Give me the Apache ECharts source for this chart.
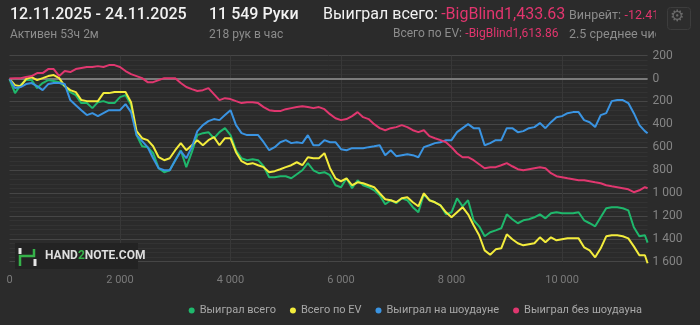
<!DOCTYPE html>
<html><head><meta charset="utf-8">
<script src="https://cdn.jsdelivr.net/npm/echarts@6/dist/echarts.min.js"></script>
<style>html,body{margin:0;padding:0;background:#2b2b2b;}#c{width:700px;height:325px;}</style>
</head><body><div id="c"></div>
<script>
const hands = [0,100,200,300,400,500,600,700,800,900,
1000,1100,1200,1300,1400,1500,1600,1700,1800,1900,
2000,2100,2200,2300,2400,2500,2600,2700,2800,2900,
3000,3100,3200,3300,3400,3500,3600,3700,3800,3900,
4000,4100,4200,4300,4400,4500,4600,4700,4800,4900,
5000,5100,5200,5300,5400,5500,5600,5700,5800,5900,
6000,6100,6200,6300,6400,6500,6600,6700,6800,6900,
7000,7100,7200,7300,7400,7500,7600,7700,7800,7900,
8000,8100,8200,8300,8400,8500,8600,8700,8800,8900,
9000,9100,9200,9300,9400,9500,9600,9700,9800,9900,
10000,10100,10200,10300,10400,10500,10600,10700,10800,10900,
11000,11100,11200,11300,11400,11500,11549];

const wonTotal = [-4,-127,-57,-13,-13,-83,-39,-13,-22,-31,
-66,-118,-144,-214,-214,-258,-206,-197,-214,-214,
-162,-144,-232,-494,-591,-599,-652,-783,-818,-801,
-713,-626,-774,-643,-494,-477,-468,-521,-468,-433,
-494,-626,-696,-713,-704,-713,-766,-862,-862,-853,
-853,-871,-836,-801,-739,-801,-827,-818,-844,-932,
-949,-871,-958,-888,-932,-949,-976,-1019,-1098,-1063,
-1089,-1046,-1063,-1124,-1168,-1011,-1063,-1081,-1107,-1186,
-1168,-1046,-1116,-1063,-1238,-1291,-1378,-1343,-1326,-1308,
-1186,-1229,-1264,-1238,-1229,-1212,-1186,-1221,-1177,-1168,
-1177,-1177,-1177,-1168,-1238,-1264,-1291,-1212,-1133,-1124,
-1124,-1133,-1151,-1299,-1378,-1369,-1434];

const evTotal = [-4,-57,-66,-4,13,-13,4,22,31,4,
-66,-101,-118,-188,-197,-197,-197,-127,-127,-118,
-118,-118,-206,-459,-521,-538,-591,-687,-713,-696,
-626,-564,-626,-582,-538,-582,-538,-512,-582,-521,
-521,-643,-722,-748,-739,-757,-774,-818,-809,-792,
-774,-757,-731,-757,-687,-696,-696,-652,-783,-871,
-897,-871,-932,-906,-914,-932,-949,-1002,-1054,-1063,
-1081,-1046,-1037,-1081,-1116,-1002,-1063,-1081,-1107,-1168,
-1212,-1168,-1124,-1186,-1282,-1369,-1501,-1540,-1492,-1483,
-1361,-1404,-1439,-1457,-1448,-1439,-1387,-1431,-1387,-1413,
-1404,-1396,-1396,-1396,-1474,-1501,-1562,-1483,-1378,-1369,
-1369,-1378,-1396,-1466,-1544,-1544,-1614];

const wonShowdown = [-4,-83,-74,-48,-39,-66,-101,-48,-39,-39,
-48,-188,-232,-276,-319,-302,-328,-302,-276,-276,
-276,-223,-293,-494,-547,-599,-696,-783,-801,-801,
-713,-634,-696,-599,-459,-407,-372,-354,-363,-319,
-276,-407,-477,-494,-494,-494,-556,-626,-599,-556,
-538,-564,-556,-564,-494,-582,-582,-538,-556,-556,
-617,-626,-608,-608,-608,-599,-591,-582,-669,-626,
-678,-669,-661,-669,-687,-599,-582,-564,-556,-538,
-538,-468,-433,-398,-433,-433,-582,-564,-538,-538,
-433,-433,-468,-459,-433,-424,-389,-433,-381,-337,
-328,-302,-293,-293,-363,-381,-424,-319,-302,-197,
-188,-188,-214,-302,-407,-459,-477];

const wonNoShowdown = [0,4,4,13,22,48,48,83,83,22,
66,57,83,92,101,101,109,101,118,118,
101,66,39,22,4,-31,-31,-13,4,4,
4,-39,-74,-92,-109,-101,-83,-136,-188,-171,
-179,-197,-214,-206,-206,-214,-249,-276,-284,-284,
-267,-258,-249,-241,-249,-258,-249,-267,-311,-346,
-363,-354,-328,-293,-337,-354,-398,-433,-451,-433,
-424,-407,-424,-451,-468,-451,-503,-521,-538,-556,
-599,-652,-687,-687,-713,-748,-783,-774,-774,-757,
-739,-766,-792,-801,-792,-783,-774,-783,-827,-853,
-862,-871,-879,-888,-888,-897,-906,-914,-932,-941,
-949,-958,-967,-993,-976,-949,-958];

const seriesNames = ['Выиграл всего','Всего по EV','Выиграл на шоудауне','Выиграл без шоудауна'];
const seriesColors = ['#1fb86c','#f3ec3c','#3a94e2','#e0376f'];
const seriesValues = [wonTotal, evTotal, wonShowdown, wonNoShowdown];

const fmt = v => String(Math.abs(v)).replace(/\B(?=(\d{3})+(?!\d))/g, ' ');
const BG = '#2b2b2b';
const FF = 'Roboto';

const chart = echarts.init(document.getElementById('c'));
const series = seriesValues.map((vals, i) => ({
  name: seriesNames[i], type: 'line', symbol: 'none', animation: false,
  color: seriesColors[i], clip: false,
  lineStyle: { width: 2, color: seriesColors[i] },
  data: hands.map((h, j) => [h, vals[j]]),
  z: 3
}));
series[0].markLine = {
  silent: true, symbol: 'none', label: { show: false }, animation: false,
  lineStyle: { color: '#7a7a7a', width: 2, type: 'solid' },
  data: [{ yAxis: 0 }], z: 1
};

chart.setOption({
  backgroundColor: BG,
  animation: false,
  textStyle: { fontFamily: FF },
  grid: { left: 9.5, right: 52.4, top: 55.7, bottom: 63.3 },
  xAxis: {
    type: 'value', min: 0, max: 11549, interval: 2000,
    axisLine: { show: false }, axisTick: { show: false },
    splitLine: { show: true, showMinLine: false, showMaxLine: false, lineStyle: { color: '#383838' } },
    axisLabel: { color: '#7a7a7a', fontSize: 11, margin: 13, showMaxLabel: false, formatter: fmt, fontFamily: FF }
  },
  yAxis: {
    type: 'value', position: 'right', min: -1600, max: 200, interval: 200,
    axisLine: { show: false }, axisTick: { show: false },
    axisLabel: { color: '#858585', fontSize: 12, margin: 5, formatter: fmt, fontFamily: FF, showMaxLabel: true, showMinLabel: true, hideOverlap: false },
    splitLine: { show: true, lineStyle: { color: '#464646' } },
    minorTick: { show: false, splitNumber: 5 },
    minorSplitLine: { show: true, lineStyle: { color: '#333333' } }
  },
  legend: {
    data: seriesNames, right: 53, top: 300, icon: 'circle', itemWidth: 6, itemHeight: 6,
    itemGap: 14, textStyle: { color: '#a8a8a8', fontSize: 11, fontFamily: FF }
  },
  series: series,
  graphic: [
    { type: 'text', left: 10, top: 7, z: 10, style: { text: '12.11.2025 - 24.11.2025', fill: '#f2f2f2', font: '500 16px Roboto' } },
    { type: 'text', left: 10, top: 29, z: 10, style: { text: 'Активен 53ч 2м', fill: '#8c8c8c', font: '12px Roboto' } },
    { type: 'text', left: 209, top: 7, z: 10, style: { text: '11 549 Руки', fill: '#f2f2f2', font: '500 16px Roboto' } },
    { type: 'text', left: 209, top: 29, z: 10, style: { text: '218 рук в час', fill: '#8c8c8c', font: '12px Roboto' } },
    { type: 'text', left: 323, top: 7, z: 10, style: {
        text: '{a|Выиграл всего:} {b|-BigBlind1,433.63}',
        rich: { a: { fill: '#f2f2f2', fontSize: 16, fontFamily: FF }, b: { fill: '#e2356e', fontSize: 16, fontFamily: FF } } } },
    { type: 'text', left: 393, top: 28, z: 10, style: {
        text: '{a|Всего по EV:} {b|-BigBlind1,613.86}',
        rich: { a: { fill: '#8c8c8c', fontSize: 12, fontFamily: FF }, b: { fill: '#e2356e', fontSize: 12, fontFamily: FF } } } },
    { type: 'text', left: 569, top: 9, z: 10, style: {
        text: '{a|Винрейт:} {b|-12.41 BB/100}',
        rich: { a: { fill: '#8c8c8c', fontSize: 12.5, fontFamily: FF }, b: { fill: '#e2356e', fontSize: 12.5, fontFamily: FF } } } },
    { type: 'text', left: 569, top: 28, z: 10, style: { text: '2.5 среднее число игроков', fill: '#8c8c8c', font: '12.5px Roboto' } },
    { type: 'rect', left: 656, top: 0, z: 20, shape: { width: 44, height: 46 }, style: { fill: BG } },
    { type: 'rect', left: 667, top: 7, z: 21, shape: { width: 23, height: 22, r: 3 }, style: { fill: '#2d2d2d', stroke: '#3d3d3d', lineWidth: 1 } },
    { type: 'text', left: 670, top: 9, z: 22, style: { text: '⚙', fill: '#6a6a6a', font: '16px "DejaVu Sans"' } },
    { type: 'rect', left: 15, top: 243, z: 30, shape: { width: 123, height: 26 }, style: { fill: '#232323' } },
    { type: 'line', z: 31, shape: { x1: 20, y1: 248, x2: 20, y2: 254 }, style: { stroke: '#e6e6e6', lineWidth: 3 } },
    { type: 'line', z: 31, shape: { x1: 35, y1: 259, x2: 35, y2: 266 }, style: { stroke: '#e6e6e6', lineWidth: 3 } },
    { type: 'polyline', z: 31, shape: { points: [[20, 266], [20, 256], [34, 256], [34, 249]] }, style: { stroke: '#36b24a', lineWidth: 2.5, fill: null } },
    { type: 'text', left: 45, top: 250, z: 31, style: {
        text: '{a|HAND}{b|2}{a|NOTE.COM}',
        rich: { a: { fill: '#dedede', fontSize: 12, fontWeight: 'bold', fontFamily: FF }, b: { fill: '#36b24a', fontSize: 12, fontWeight: 'bold', fontFamily: FF } } } }
  ]
});
</script>
</body></html>
